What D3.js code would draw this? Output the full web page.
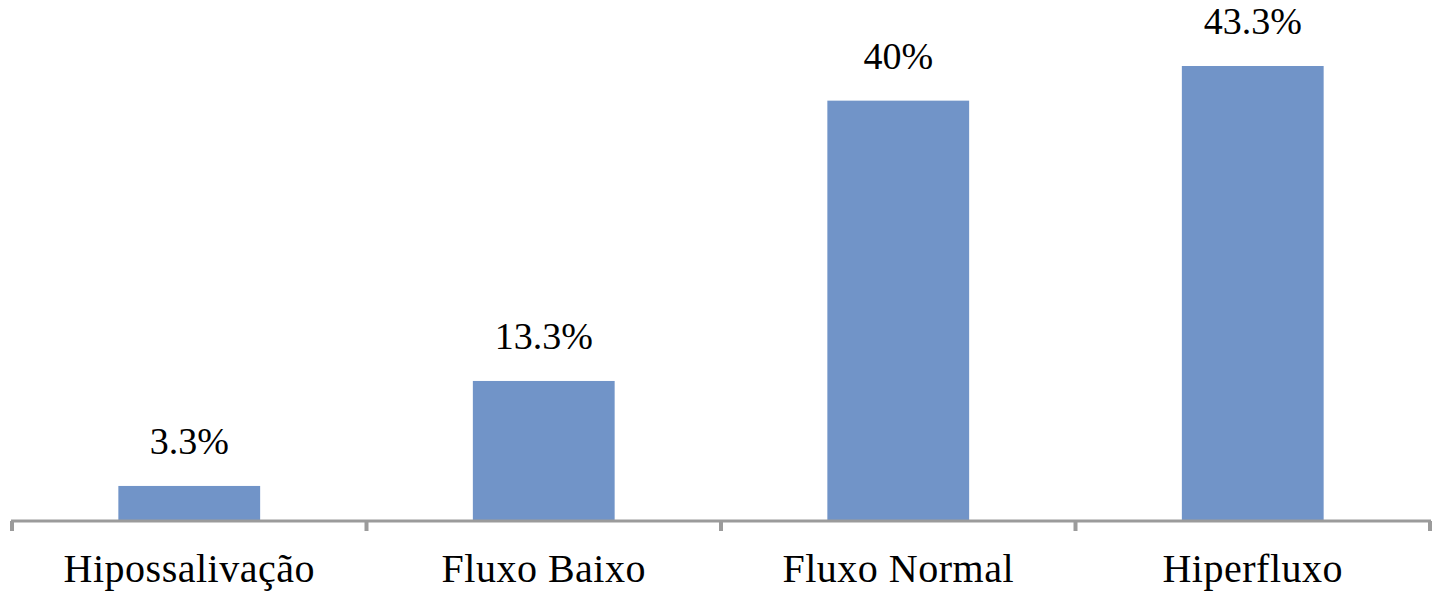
<!DOCTYPE html>
<html>
<head>
<meta charset="utf-8">
<script src="https://cdn.jsdelivr.net/npm/d3@7"></script>
<style>
    body { margin: 0; background: #fff; }
    text { font-family: "Liberation Serif", "Times New Roman", serif; fill: #000; }
</style>
</head>
<body>
<svg></svg>
<script>
var categories = ['Hipossalivação', 'Fluxo Baixo', 'Fluxo Normal', 'Hiperfluxo'];
var values = [3.3, 13.3, 40, 43.3];
var labels = ['3.3%', '13.3%', '40%', '43.3%'];

var data = categories.map(function (c, i) {
    return { cat: c, value: values[i], label: labels[i] };
});

var WIDTH = 1453, HEIGHT = 602;

var svg = d3.select("svg")
    .attr('width', WIDTH)
    .attr('height', HEIGHT);

var x = d3.scaleBand().range([12, 1430])
    .domain(categories);
var y = d3.scaleLinear().range([520.6, 66])
    .domain([0, 43.3]);

var barW = x.bandwidth() * 0.4;

// bars
svg.selectAll("rect.bar")
    .data(data)
    .enter().append("rect")
    .attr("class", "bar")
    .attr("x", function (d) { return x(d.cat) + (x.bandwidth() - barW) / 2; })
    .attr("y", function (d) { return y(d.value); })
    .attr("width", barW)
    .attr("height", function (d) { return y(0) - y(d.value); })
    .attr("fill", "#7194c8");

// value labels
svg.selectAll("text.val")
    .data(data)
    .enter().append("text")
    .attr("class", "val")
    .attr("x", function (d) { return x(d.cat) + x.bandwidth() / 2; })
    .attr("y", function (d) { return y(d.value) - 32; })
    .attr("text-anchor", "middle")
    .style("font-size", "38px")
    .text(function (d) { return d.label; });

// axis
var axisY = 521;
var axis = svg.append("g");
axis.append("line")
    .attr("x1", x.range()[0] - 1).attr("x2", x.range()[1] + 1)
    .attr("y1", axisY).attr("y2", axisY)
    .attr("stroke", "#9b9b9b").attr("stroke-width", 3);

// tick marks on band boundaries
var bounds = categories.map(function (c) { return x(c); }).concat([x.range()[1]]);
axis.selectAll("line.tick")
    .data(bounds)
    .enter().append("line")
    .attr("class", "tick")
    .attr("x1", function (d) { return d; }).attr("x2", function (d) { return d; })
    .attr("y1", axisY).attr("y2", axisY + 10)
    .attr("stroke", "#9b9b9b").attr("stroke-width", 4);

// category labels
svg.selectAll("text.cat")
    .data(categories)
    .enter().append("text")
    .attr("class", "cat")
    .attr("x", function (d) { return x(d) + x.bandwidth() / 2; })
    .attr("y", 582)
    .attr("text-anchor", "middle")
    .style("font-size", "40px")
    .style("letter-spacing", "0.5px")
    .text(function (d) { return d; });
</script>
</body>
</html>
